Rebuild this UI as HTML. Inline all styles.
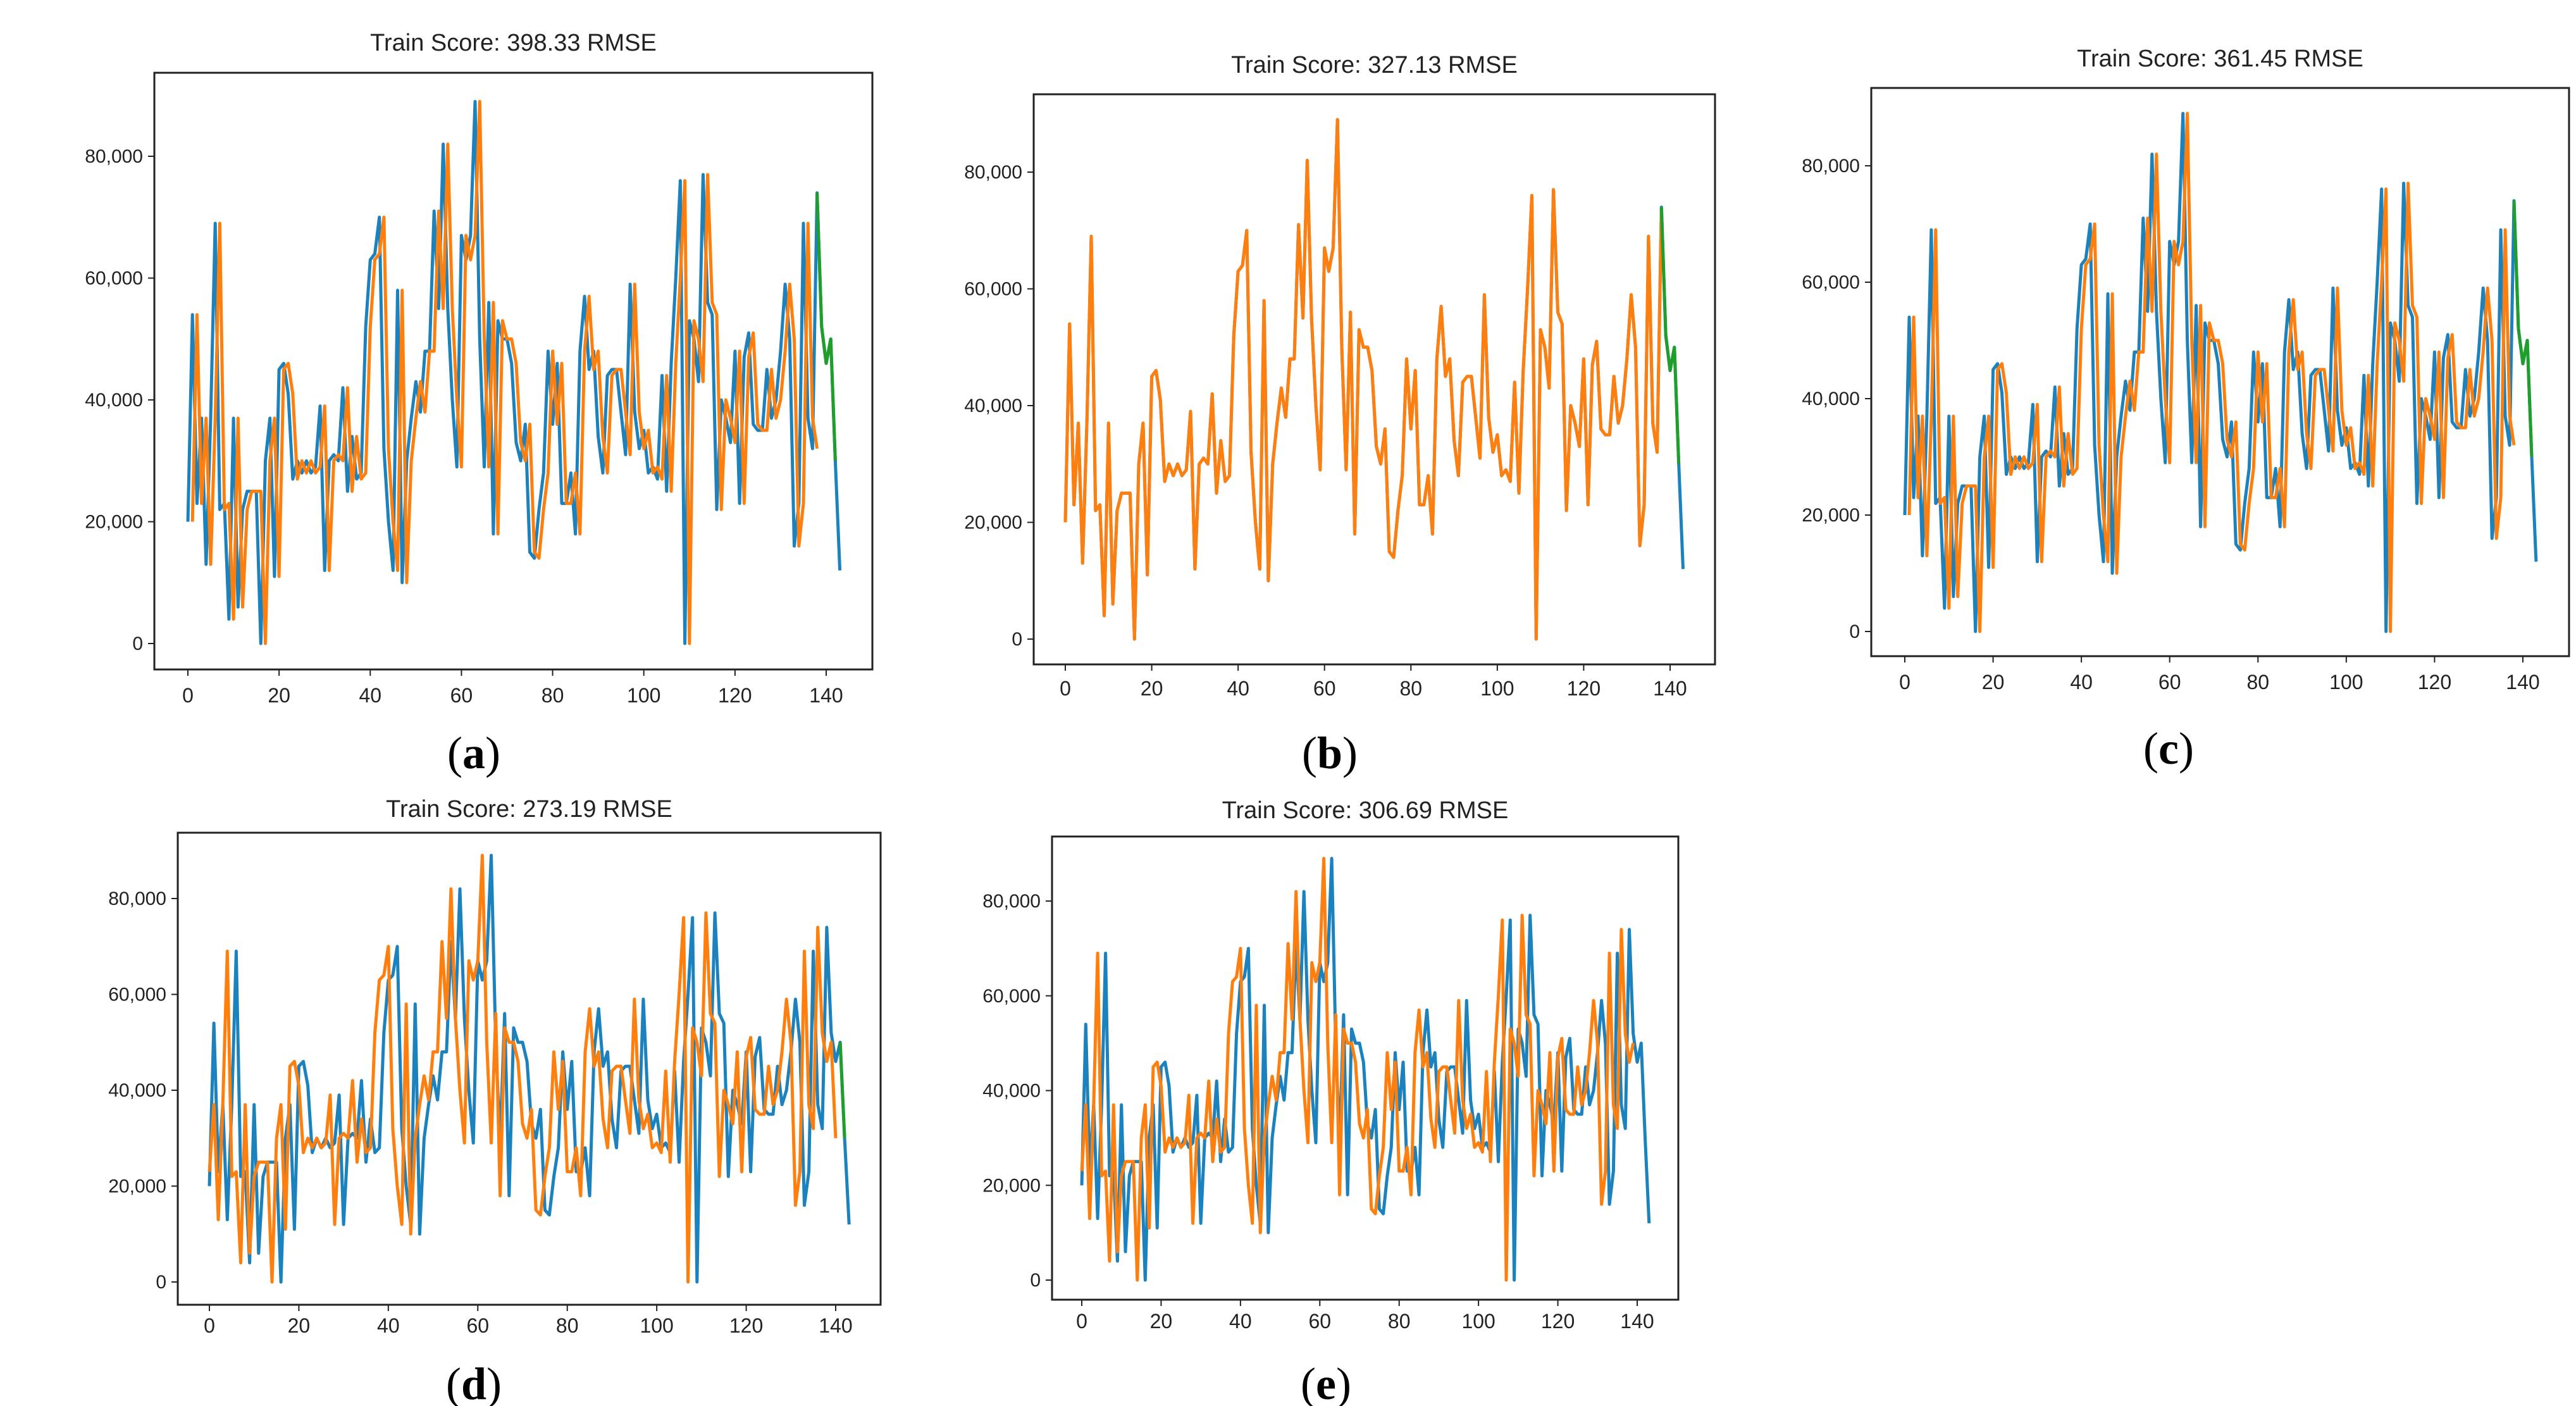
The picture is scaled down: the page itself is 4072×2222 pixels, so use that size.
<!DOCTYPE html>
<html><head><meta charset="utf-8"><style>
html,body{margin:0;padding:0;background:#fff;}
svg{display:block;}
text{font-family:"Liberation Sans",sans-serif;fill:#222;}
.lbl{font-family:"Liberation Serif",serif;fill:#000;}
</style></head><body>
<svg id="fig" width="4072" height="2222" viewBox="0 0 4072 2222"></svg>
<script>
const actual=[20,54,23,37,13,37,69,22,23,4,37,6,22,25,25,25,0,30,37,11,45,46,41,27,30,28,30,28,29,39,12,30,31,30,42,25,34,27,28,52,63,64,70,32,20,12,58,10,30,37,43,38,48,48,71,55,82,55,40,29,67,63,67,89,50,29,56,18,53,50,50,46,33,30,36,15,14,22,28,48,36,46,23,23,28,18,48,57,45,48,34,28,44,45,45,38,31,59,38,32,35,28,29,27,44,25,46,60,76,0,53,50,43,77,56,54,22,40,37,33,48,23,47,51,36,35,35,45,37,40,48,59,50,16,23,69,37,32,74,52,46,50,30,12];
const testPred=[74,52,46,50,30];
const titles=["Train Score: 398.33 RMSE","Train Score: 327.13 RMSE","Train Score: 361.45 RMSE","Train Score: 273.19 RMSE","Train Score: 306.69 RMSE"];
const panelLetters=["a","b","c","d","e"];
const orangeShift=[1,0,1,-2,-2];
const orangeEnd=[138,138,138,140,139];
const greenStart=[138,138,138,141,-1];
const yTicks=[0,20000,40000,60000,80000];
const xTicks=[0,20,40,60,80,100,120,140];

const P=[
 {bl:244,br:1379,bt:115,bb:1058,x0:297,x140:1306,y0:1017,y80:247,ty:80,tk:1098,lx:749,ly:1190},
 {bl:1634,br:2711,bt:149,bb:1050,x0:1684,x140:2640,y0:1010,y80:272,ty:115,tk:1087,lx:2102,ly:1190},
 {bl:2958,br:4061,bt:139,bb:1037,x0:3011,x140:3988,y0:998,y80:262,ty:105,tk:1077,lx:3428,ly:1183},
 {bl:281,br:1392,bt:1316,bb:2062,x0:331,x140:1321,y0:2026,y80:1420,ty:1291,tk:2094,lx:749,ly:2187},
 {bl:1663,br:2653,bt:1322,bb:2054,x0:1710,x140:2588,y0:2023,y80:1424,ty:1293,tk:2087,lx:2096,ly:2187}
];
const NS="http://www.w3.org/2000/svg";
const svg=document.getElementById('fig');
function mk(tag,attrs,parent){const e=document.createElementNS(NS,tag);for(const k in attrs)e.setAttribute(k,attrs[k]);parent.appendChild(e);return e;}
function fmt(v){return v.toLocaleString('en-US');}

P.forEach((p,pi)=>{
  const g=mk('g',{},svg);
  
  
  const sx=i=>p.x0+(p.x140-p.x0)*i/140;
  const sy=v=>p.y0+(p.y80-p.y0)*v/80000;
  const t=mk('text',{x:(p.bl+p.br)/2,y:p.ty,'text-anchor':'middle','font-size':38},g);
  t.textContent=titles[pi];
  
  
  const fr=mk('rect',{x:p.bl,y:p.bt,width:p.br-p.bl,height:p.bb-p.bt,fill:'#fff',stroke:'#222','stroke-width':3},g);
  
  
  yTicks.forEach(v=>{
    const y=sy(v);
    mk('line',{x1:p.bl-10,x2:p.bl,y1:y,y2:y,stroke:'#222','stroke-width':2},g);
    const tt=mk('text',{x:p.bl-18,y:y+10,'text-anchor':'end','font-size':30},g);
    tt.textContent=fmt(v);
    
    
  });
  xTicks.forEach(v=>{
    const x=sx(v);
    mk('line',{x1:x,x2:x,y1:p.bb,y2:p.bb+10,stroke:'#222','stroke-width':2},g);
    const tt=mk('text',{x:x,y:p.tk+12,'text-anchor':'middle','font-size':32},g);
    tt.textContent=v;
    
    
  });
  let d='';
  actual.forEach((v,i)=>{d+=(i?'L':'M')+sx(i).toFixed(1)+','+sy(v*1000).toFixed(1);});
  const b=mk('path',{d:d,fill:'none',stroke:'#1b82bd','stroke-width':5,'stroke-linejoin':'round'},g);
  
  
  d='';let first=true;
  for(let i=0;i<=orangeEnd[pi];i++){
    const j=i-orangeShift[pi];
    if(j<0||j>=actual.length)continue;
    d+=(first?'M':'L')+sx(i).toFixed(1)+','+sy(actual[j]*1000).toFixed(1);first=false;
  }
  const o=mk('path',{d:d,fill:'none',stroke:'#ff7f0e','stroke-width':5,'stroke-linejoin':'round'},g);
  
  
  if(greenStart[pi]>=0){
    d='';
    for(let i=greenStart[pi];i<138+testPred.length;i++){
      d+=(i===greenStart[pi]?'M':'L')+sx(i).toFixed(1)+','+sy(testPred[i-138]*1000).toFixed(1);
    }
    const gr=mk('path',{d:d,fill:'none',stroke:'#1f9e2c','stroke-width':5,'stroke-linejoin':'round'},g);
    
    
  }
  const l=mk('text',{x:p.lx,y:p.ly+24,'text-anchor':'middle','font-size':72,class:'lbl'},g);
  l.innerHTML='(<tspan font-weight="bold">'+panelLetters[pi]+'</tspan>)';
  
  
});
</script>
</body></html>
